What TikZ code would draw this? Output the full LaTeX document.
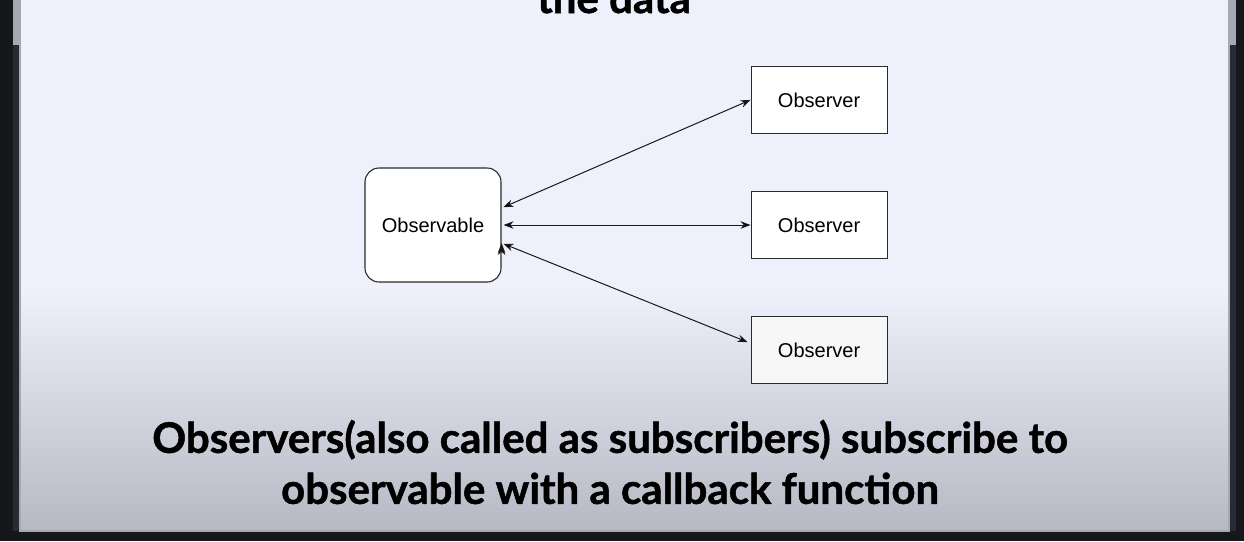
\documentclass[tikz,border=0pt]{standalone}
\usepackage{fontspec}
\setmainfont{Liberation Sans}
\newfontfamily\slidefont[BoldFeatures={FakeBold=1.2}]{Lato}
\usepackage{tikz}
\usetikzlibrary{positioning,arrows.meta}

\definecolor{slidetop}{HTML}{EEF1FC}
\definecolor{slidebot}{HTML}{B6B9C3}
\definecolor{screen}{HTML}{16171B}
\definecolor{bar}{HTML}{262B34}
\definecolor{barlight}{HTML}{A4A9B2}
\definecolor{boxline}{HTML}{2A2A2A}

\tikzset{
  observable/.style={draw=boxline,line width=1.1pt,rounded corners=14pt,fill=white,
    minimum width=136pt,minimum height=114pt,font=\fontsize{20}{24}\selectfont},
  observer/.style={draw=boxline,line width=1.1pt,fill=white,
    minimum width=136pt,minimum height=67pt,font=\fontsize{20}{24}\selectfont},
  caption/.style={font=\slidefont\bfseries\fontsize{42}{51}\selectfont,align=center}
}

\begin{document}
\begin{tikzpicture}[x=1pt,y=-1pt,>={Stealth[length=10pt,width=7.5pt]},node distance=57pt]
  \useasboundingbox (0,0) rectangle (1244,541);
  \clip (0,0) rectangle (1244,541);

  % screen and slide
  \fill[screen] (0,0) rectangle (1244,541);
  \fill[bar] (13,0) rectangle (20,531);
  \fill[barlight] (13,0) rectangle (20,45);
  \fill[bar] (1229,0) rectangle (1236,531);
  \fill[barlight] (1229,0) rectangle (1236,45);
  \fill[slidetop] (20,0) rectangle (1229,531);
  \shade[top color=slidetop,bottom color=slidebot] (20,290) rectangle (1229,531);
  \draw[barlight,line width=1.5pt] (20,0) -- (20,531) -- (1229,531) -- (1229,0);

  \node[caption,anchor=base] (title) at (614,13) {the data};

  \node[observable]                       (obs) at (433,225) {Observable};
  \node[observer] (o2) [right=249pt of obs] {Observer};
  \node[observer] (o1) [above=of o2]        {Observer};
  \node[observer,fill=gray!6] (o3) [below=of o2] {Observer};

  \path[<->,draw=black!90,line width=1pt,shorten <=2pt]
    ([yshift=17pt]obs.east) edge (o1.west)
    (obs.east) edge (o2.west)
    ([yshift=-18pt]obs.east) edge ([yshift=8pt,xshift=-3pt]o3.west);

  \node[caption] (note) at (610,462) {Observers(also called as subscribers) subscribe to\\observable with a callback function};
\end{tikzpicture}
\end{document}
